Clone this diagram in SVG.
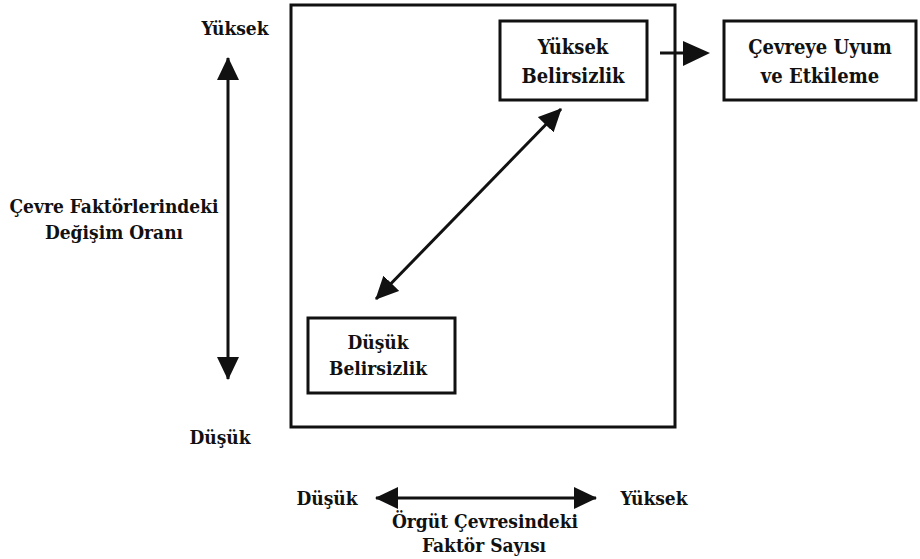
<svg xmlns="http://www.w3.org/2000/svg" width="920" height="559" viewBox="0 0 920 559">
<style>
text{font-family:'DejaVu Serif Condensed','DejaVu Serif',serif;font-weight:bold;font-size:19px;fill:#111;text-anchor:middle}
.bt{font-size:20px}
.box{fill:#fff;stroke:#111;stroke-width:3}
.ln{stroke:#111;stroke-width:3;fill:none}
</style>
<defs>
<marker id="ah" markerUnits="userSpaceOnUse" markerWidth="23" markerHeight="22" refX="22" refY="11" orient="auto-start-reverse">
<path d="M0,0 L23,11 L0,22 z" fill="#111"/>
</marker>
</defs>
<rect x="0" y="0" width="920" height="559" fill="#fff"/>
<g id="frame"><rect class="box" x="291" y="5" width="384" height="422"/></g>
<g id="connectors">
<line class="ln" x1="228" y1="58" x2="228" y2="379" marker-start="url(#ah)" marker-end="url(#ah)"/>
<line class="ln" x1="376" y1="299" x2="561" y2="109" marker-start="url(#ah)" marker-end="url(#ah)"/>
<line class="ln" x1="376" y1="498" x2="596" y2="498" marker-start="url(#ah)" marker-end="url(#ah)"/>
<line class="ln" x1="660" y1="53" x2="686" y2="53" stroke-width="5"/>
<path d="M683,41 L710,53 L683,66 z" fill="#111"/>
</g>
<g id="yuksek-belirsizlik"><rect class="box" x="500" y="21" width="147" height="79"/>
<text class="bt" x="573" y="54">Yüksek</text><text class="bt" x="573" y="83">Belirsizlik</text></g>
<g id="cevreye-uyum"><rect class="box" x="724" y="21" width="192" height="79"/>
<text class="bt" x="820" y="54">Çevreye Uyum</text><text class="bt" x="820" y="83">ve Etkileme</text></g>
<g id="dusuk-belirsizlik"><rect class="box" x="308" y="318" width="147" height="75"/>
<text x="378" y="349">Düşük</text><text x="378" y="375">Belirsizlik</text></g>
<g id="labels">
<text x="235" y="35">Yüksek</text>
<text x="220" y="444">Düşük</text>
<text x="114" y="213">Çevre Faktörlerindeki</text>
<text x="114" y="239">Değişim Oranı</text>
<text x="327" y="505">Düşük</text>
<text x="654" y="505">Yüksek</text>
<text x="485" y="528">Örgüt Çevresindeki</text>
<text x="484" y="552">Faktör Sayısı</text>
</g>
</svg>
